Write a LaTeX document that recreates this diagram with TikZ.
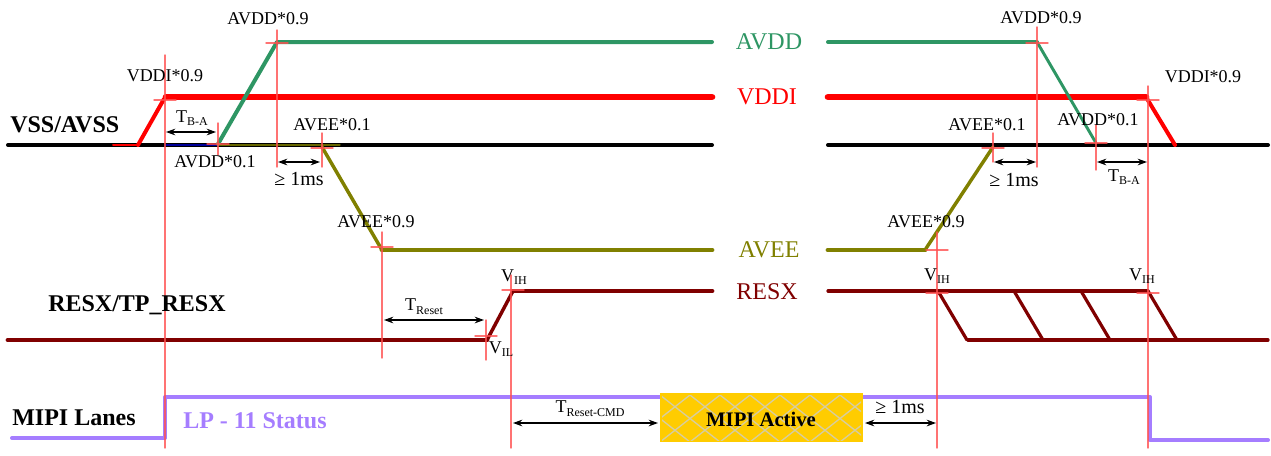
\documentclass[tikz,border=0pt]{standalone}
\usepackage{fontspec}
\setmainfont{Liberation Serif}
\usetikzlibrary{arrows.meta}
\definecolor{avddgreen}{RGB}{46,150,100}
\definecolor{vddired}{RGB}{255,0,0}
\definecolor{aveeolive}{RGB}{128,128,0}
\definecolor{resxred}{RGB}{128,0,0}
\definecolor{mipipurple}{RGB}{165,125,255}
\definecolor{guidered}{RGB}{255,80,80}
\definecolor{activegold}{RGB}{255,204,0}
\definecolor{hatchgrey}{RGB}{215,205,160}
\tikzset{
  guide/.style={guidered,line width=1.1pt,opacity=0.8},
  dim/.style={{Stealth[length=7pt,width=5pt]}-{Stealth[length=7pt,width=5pt]},line width=0.9pt},
  lbl/.style={inner sep=0pt,font=\fontsize{13.5}{14}\selectfont},
  gelbl/.style={inner sep=0pt,font=\fontsize{15}{16}\selectfont},
  sig/.style={inner sep=0pt,font=\fontsize{18}{20}\selectfont},
  rowlbl/.style={inner sep=0pt,anchor=west,font=\fontsize{18}{20}\selectfont\bfseries},
}
\newcommand\lowtxt[1]{\raisebox{-.45ex}{\fontsize{9}{9}\selectfont #1}}
\begin{document}
\begin{tikzpicture}[x=0.75pt,y=-0.75pt,line cap=round,line join=round]
  \useasboundingbox (0,0) rectangle (1271,455);
  \def\hmark#1#2{\draw[guide] (#1-11,#2) -- (#1+11,#2);}

  \draw[line width=3pt] (8,145) -- (712,145) (828,145) -- (1268,145);
  \draw[blue!60!black,line width=1pt] (165,145) -- (218,145);
  \draw[aveeolive!80!black,line width=1pt] (218,145) -- (340,145);
  \draw[vddired,line width=1.5pt] (113,145) -- (138,145);
  \draw[vddired,line width=3pt] (138,145) -- (164,99);
  \draw[vddired,line width=5pt] (166,97) -- (712,97);
  \draw[vddired,line width=5pt] (828,97) -- (1146,97);
  \draw[vddired,line width=3pt] (1146,97) -- (1175,145);
  \draw[avddgreen,line width=3pt] (218,144) -- (277,42) -- (712,42);
  \draw[avddgreen,line width=3pt] (828,42) -- (1037,42);
  \draw[avddgreen,line width=2.2pt] (1037,42) -- (1096,143);
  \draw[aveeolive,line width=2.6pt] (322,147) -- (382,250);
  \draw[aveeolive,line width=3.6pt] (382,250) -- (712,250) (828,250) -- (925,250);
  \draw[aveeolive,line width=2.6pt] (925,250) -- (993,147);
  \draw[resxred,line width=3.6pt] (8,340) -- (487,340);
  \draw[resxred,line width=2.6pt] (487,340) -- (513,291);
  \draw[resxred,line width=3.6pt] (513,291) -- (712,291);
  \draw[resxred,line width=2.4pt] (828,291) -- (1148,291) (968,340) -- (1268,340);
  \foreach \x in {938,1014,1081,1148}
    \draw[resxred,line width=2.4pt] (\x,291) -- (\x+29,340);
  \draw[mipipurple,line width=3pt] (12,438) -- (165,438) -- (165,397) -- (660,397);
  \draw[mipipurple,line width=3pt] (862,397) -- (1150,397) -- (1150,440) -- (1268,440);

  \fill[activegold] (660,393) rectangle (863,442);
  \begin{scope}
    \clip (662,395) rectangle (861,440);
    \foreach \x in {600,630,...,870}
      \draw[hatchgrey,line width=1pt] (\x,395) -- (\x+60,442) (\x+60,395) -- (\x,442);
  \end{scope}
  \node[inner sep=0pt,font=\fontsize{15.5}{16}\selectfont\bfseries] (active) at (761,419) {MIPI Active};

  \foreach \x/\ya/\yb in {165/55/448,218/123/155,277/30/167,322/133/167,382/232/358,486/320/360,
      511/275/448,937/232/448,993/133/162,1037/27/167,1096/125/170,1148/86/448}
    \draw[guide] (\x,\ya) -- (\x,\yb);
  \foreach \x/\y in {165/100,218/144,277/43,322/148,382/247,486/336,513/290,
      937/250,937/293,993/148,1037/43,1096/143,1148/100,1148/293}
    {\hmark{\x}{\y}}

  \draw[dim] (166,132) -- (216,132);
  \draw[dim] (278,162) -- (320,162);
  \draw[dim] (384,320) -- (484,320);
  \draw[dim] (513,423) -- (658,423);
  \draw[dim] (865,423) -- (936,423);
  \draw[dim] (994,162) -- (1036,162);
  \draw[dim] (1097,162) -- (1147,162);

  \node[lbl] (tba1) at (192,118) {T\lowtxt{B-A}};
  \node[gelbl] (ms1) at (299,179) {≥ 1ms};
  \node[lbl] (trst) at (424,307) {T\lowtxt{Reset}};
  \node[lbl] (trcmd) at (590,409) {T\lowtxt{Reset-CMD}};
  \node[gelbl] (ms2) at (900,407) {≥ 1ms};
  \node[gelbl] (ms3) at (1014,180) {≥ 1ms};
  \node[lbl] (tba2) at (1124,177) {T\lowtxt{B-A}};

  \node[lbl] (avdd9a) at (268,19) {AVDD*0.9};
  \node[lbl] (vddi9a) at (165,76) {VDDI*0.9};
  \node[lbl] (avdd1a) at (215,162) {AVDD*0.1};
  \node[lbl] (avee1a) at (332,125) {AVEE*0.1};
  \node[lbl] (avee9a) at (376,222) {AVEE*0.9};
  \node[lbl] (vih1) at (514,277) {V\lowtxt{IH}};
  \node[lbl] (vil1) at (501,349) {V\lowtxt{IL}};
  \node[lbl] (avdd9b) at (1041,18) {AVDD*0.9};
  \node[lbl] (vddi9b) at (1203,77) {VDDI*0.9};
  \node[lbl] (avee1b) at (987,125) {AVEE*0.1};
  \node[lbl] (avdd1b) at (1098,120) {AVDD*0.1};
  \node[lbl] (avee9b) at (926,222) {AVEE*0.9};
  \node[lbl] (vih2) at (937,276) {V\lowtxt{IH}};
  \node[lbl] (vih3) at (1142,276) {V\lowtxt{IH}};

  \node[sig,text=avddgreen] (avdd) at (769,42) {AVDD};
  \node[sig,text=vddired] (vddi) at (767,97) {VDDI};
  \node[sig,text=aveeolive] (avee) at (769,250) {AVEE};
  \node[sig,text=resxred] (resx) at (767,292) {RESX};

  \node[rowlbl] (vss) at (10,125) {VSS/AVSS};
  \node[rowlbl] (rst) at (48,305) {RESX/TP\_RESX};
  \node[rowlbl] (mipi) at (12,418) {MIPI Lanes};
  \node[rowlbl,text=mipipurple] (lp11) at (183,421) {LP - 11 Status};
\end{tikzpicture}
\end{document}
